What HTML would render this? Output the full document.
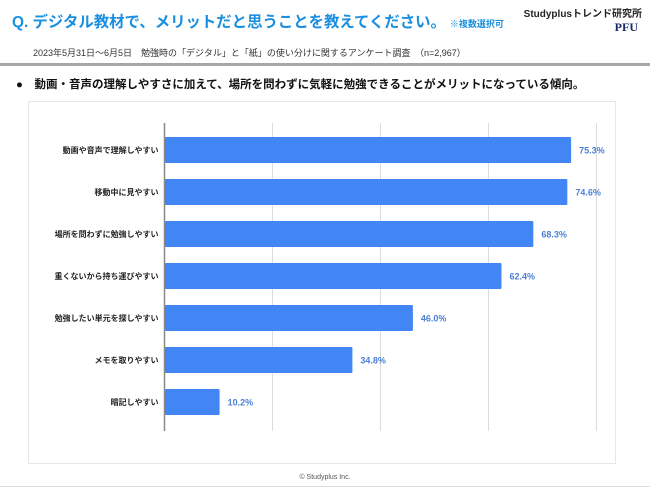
<!DOCTYPE html>
<html><head><meta charset="utf-8"><style>
body{margin:0;width:650px;height:488px;background:#fff;position:relative;overflow:hidden;font-family:"Liberation Sans","Noto Sans CJK JP",sans-serif;}
.abs{position:absolute;white-space:nowrap;}
</style></head><body>
<div class="abs" style="left:12px;top:12px;font-size:15.4px;line-height:22px;font-weight:bold;color:#1a8fe0;">Q. デジタル教材で、メリットだと思うことを教えてください。<span style="font-size:9px;margin-left:4px;">※複数選択可</span></div>
<div class="abs" style="right:8px;top:5px;font-size:10px;font-weight:bold;color:#222;">Studyplusトレンド研究所</div>
<div class="abs" style="right:12px;top:20px;font-size:12px;font-weight:bold;color:#1a2a6c;font-family:'Liberation Serif',serif;">PFU</div>
<div class="abs" style="left:33px;top:46px;font-size:9px;color:#333;">2023年5月31日〜6月5日　勉強時の「デジタル」と「紙」の使い分けに関するアンケート調査　（n=2,967）</div>
<div class="abs" style="left:0;top:63px;width:650px;height:3px;background:#a6a6a6;"></div>
<div class="abs" style="left:16px;top:76px;font-size:11.5px;font-weight:bold;color:#111;">●　動画・音声の理解しやすさに加えて、場所を問わずに気軽に勉強できることがメリットになっている傾向。</div>
<div class="abs" style="left:28px;top:101px;width:586px;height:361px;border:1px solid #e6e6e6;"></div>
<svg id="chart" class="abs" style="left:0;top:0" width="650" height="488"></svg>
<div class="abs" style="left:0;width:650px;text-align:center;top:474px;font-size:7px;color:#555;">© Studyplus Inc.</div>
<div class="abs" style="left:0;top:486px;width:650px;height:1px;background:#ddd;"></div>
<script>
const categories=["動画や音声で理解しやすい","移動中に見やすい","場所を問わずに勉強しやすい","重くないから持ち運びやすい","勉強したい単元を探しやすい","メモを取りやすい","暗記しやすい"];
const values=[75.3,74.6,68.3,62.4,46.0,34.8,10.2];
const ticks=[0,20,40,60,80];
const svg=document.getElementById('chart');const NS='http://www.w3.org/2000/svg';
const x0=164.5,pxPer=5.4,yTop=123,yBot=431,y0=150,step=42,bh=26;
const xs=v=>x0+v*pxPer, ys=i=>y0+i*step;
function mk(t,a){const e=document.createElementNS(NS,t);for(const k in a)e.setAttribute(k,a[k]);svg.appendChild(e);return e;}
ticks.forEach((t,i)=>{if(t===0)return;const g=mk('line',{x1:xs(t),x2:xs(t),y1:yTop,y2:yBot,stroke:'#dcdcdc','stroke-width':1});

});
const ax=mk('line',{x1:x0,x2:x0,y1:yTop,y2:yBot,stroke:'#888','stroke-width':1.5});


categories.forEach((c,i)=>{const cy=ys(i);
const r=mk('rect',{x:x0+0.5,y:cy-bh/2,width:xs(values[i])-x0-0.5,height:bh,fill:'#4285f4',rx:1});


const l=mk('text',{x:x0-6,y:cy+3,'text-anchor':'end','font-size':8,'font-weight':'bold',fill:'#222'});l.textContent=c;


const v=mk('text',{x:xs(values[i])+8,y:cy+3.5,'font-size':9,'font-weight':'bold',fill:'#4a7fd6'});v.textContent=values[i].toFixed(1)+'%';

});
</script>
</body></html>
